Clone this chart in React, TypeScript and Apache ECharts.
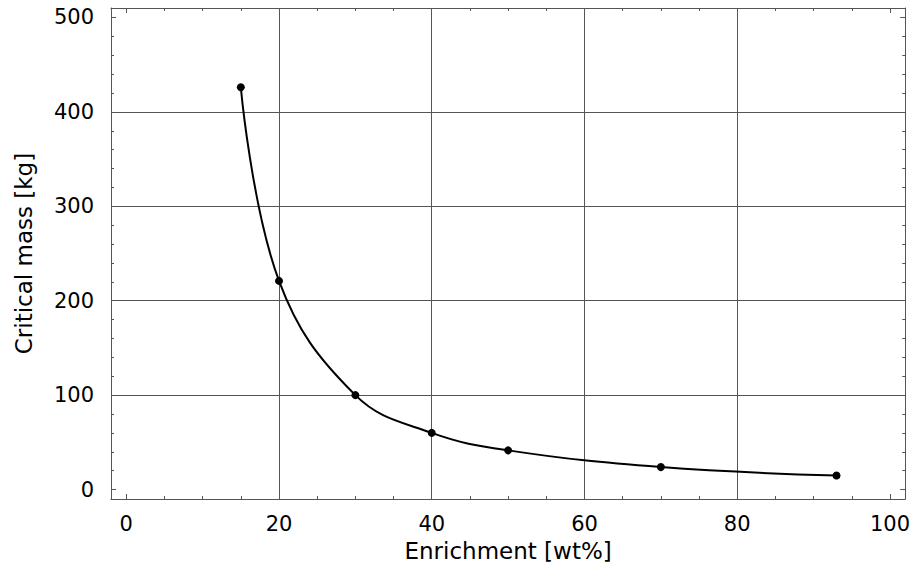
import React, { useEffect, useRef } from "react";
import * as echarts from "echarts";

const enrichment = [15, 20, 30, 40, 50, 70, 93];
const criticalMass = [426, 221, 100, 60, 41.5, 23.8, 14.8];

const xMajorTicks = [0, 20, 40, 60, 80, 100];
const xMinorTicks = [5, 10, 15, 25, 30, 35, 45, 50, 55, 65, 70, 75, 85, 90, 95];
const xGridLines = [20, 40, 60, 80];
const yMajorTicks = [0, 100, 200, 300, 400, 500];
const yMinorTicks = [20, 40, 60, 80, 120, 140, 160, 180, 220, 240, 260, 280, 320, 340, 360, 380, 420, 440, 460, 480];
const yGridLines = [100, 200, 300, 400];

const X_MIN = -2;
const X_MAX = 102;
const Y_MIN = -10;
const Y_MAX = 510;

const FONT = "DejaVu Sans";
const LINE_COLOR = "#555";

export default function App() {
  const ref = useRef<HTMLDivElement>(null);

  useEffect(() => {
    if (!ref.current) return;
    const chart = echarts.init(ref.current, undefined, { renderer: "svg" });

    const hidden = { show: false };
    const xBase = { type: "value", min: X_MIN, max: X_MAX };
    const yBase = { type: "value", min: Y_MIN, max: Y_MAX };

    const tickAxis = (base: any, position: string, values: number[], len: number, withLine: boolean) => ({
      ...base,
      position,
      axisLine: { show: withLine, onZero: false, lineStyle: { color: LINE_COLOR, width: 1 } },
      axisTick: { show: true, inside: true, length: len, customValues: values, lineStyle: { color: LINE_COLOR, width: 1 } },
      axisLabel: hidden,
      splitLine: hidden,
    });

    const gridAxis = (base: any, position: string, values: number[]) => ({
      ...base,
      position,
      axisLine: { show: false, onZero: false },
      axisTick: { show: false, customValues: values },
      axisLabel: hidden,
      splitLine: { show: true, lineStyle: { color: LINE_COLOR, width: 1 } },
    });

    chart.setOption({
      animation: false,
      backgroundColor: "#fff",
      grid: { left: 111, top: 8, width: 795, height: 491, containLabel: false },
      xAxis: [
        {
          ...xBase,
          position: "bottom",
          name: "Enrichment [wt%]",
          nameLocation: "middle",
          nameGap: 40,
          nameTextStyle: { fontFamily: FONT, fontSize: 23, color: "#000" },
          axisLine: { show: true, onZero: false, lineStyle: { color: LINE_COLOR, width: 1 } },
          axisTick: { show: true, inside: true, length: 5, customValues: xMajorTicks, lineStyle: { color: LINE_COLOR } },
          axisLabel: { show: true, customValues: xMajorTicks, margin: 14, fontFamily: FONT, fontSize: 21, color: "#000" },
          splitLine: hidden,
        },
        tickAxis(xBase, "top", xMajorTicks, 5, true),
        tickAxis(xBase, "bottom", xMinorTicks, 3, false),
        tickAxis(xBase, "top", xMinorTicks, 3, false),
        gridAxis(xBase, "bottom", xGridLines),
      ],
      yAxis: [
        {
          ...yBase,
          position: "left",
          name: "Critical mass [kg]",
          nameLocation: "middle",
          nameGap: 76,
          nameTextStyle: { fontFamily: FONT, fontSize: 23, color: "#000" },
          axisLine: { show: true, onZero: false, lineStyle: { color: LINE_COLOR, width: 1 } },
          axisTick: { show: true, inside: true, length: 5, customValues: yMajorTicks, lineStyle: { color: LINE_COLOR } },
          axisLabel: { show: true, customValues: yMajorTicks, margin: 17, fontFamily: FONT, fontSize: 21, color: "#000" },
          splitLine: hidden,
        },
        tickAxis(yBase, "right", yMajorTicks, 5, true),
        tickAxis(yBase, "left", yMinorTicks, 3, false),
        tickAxis(yBase, "right", yMinorTicks, 3, false),
        gridAxis(yBase, "left", yGridLines),
      ],
      series: [
        {
          type: "line",
          xAxisIndex: 0,
          yAxisIndex: 0,
          data: enrichment.map((x, i) => [x, criticalMass[i]]),
          smooth: 0.4,
          symbol: "circle",
          symbolSize: 8,
          itemStyle: { color: "#000" },
          lineStyle: { color: "#000", width: 2 },
        },
      ],
    });

    return () => chart.dispose();
  }, []);

  return <div ref={ref} style={{ width: 913, height: 570, position: "absolute", left: 0, top: 0 }} />;
}
